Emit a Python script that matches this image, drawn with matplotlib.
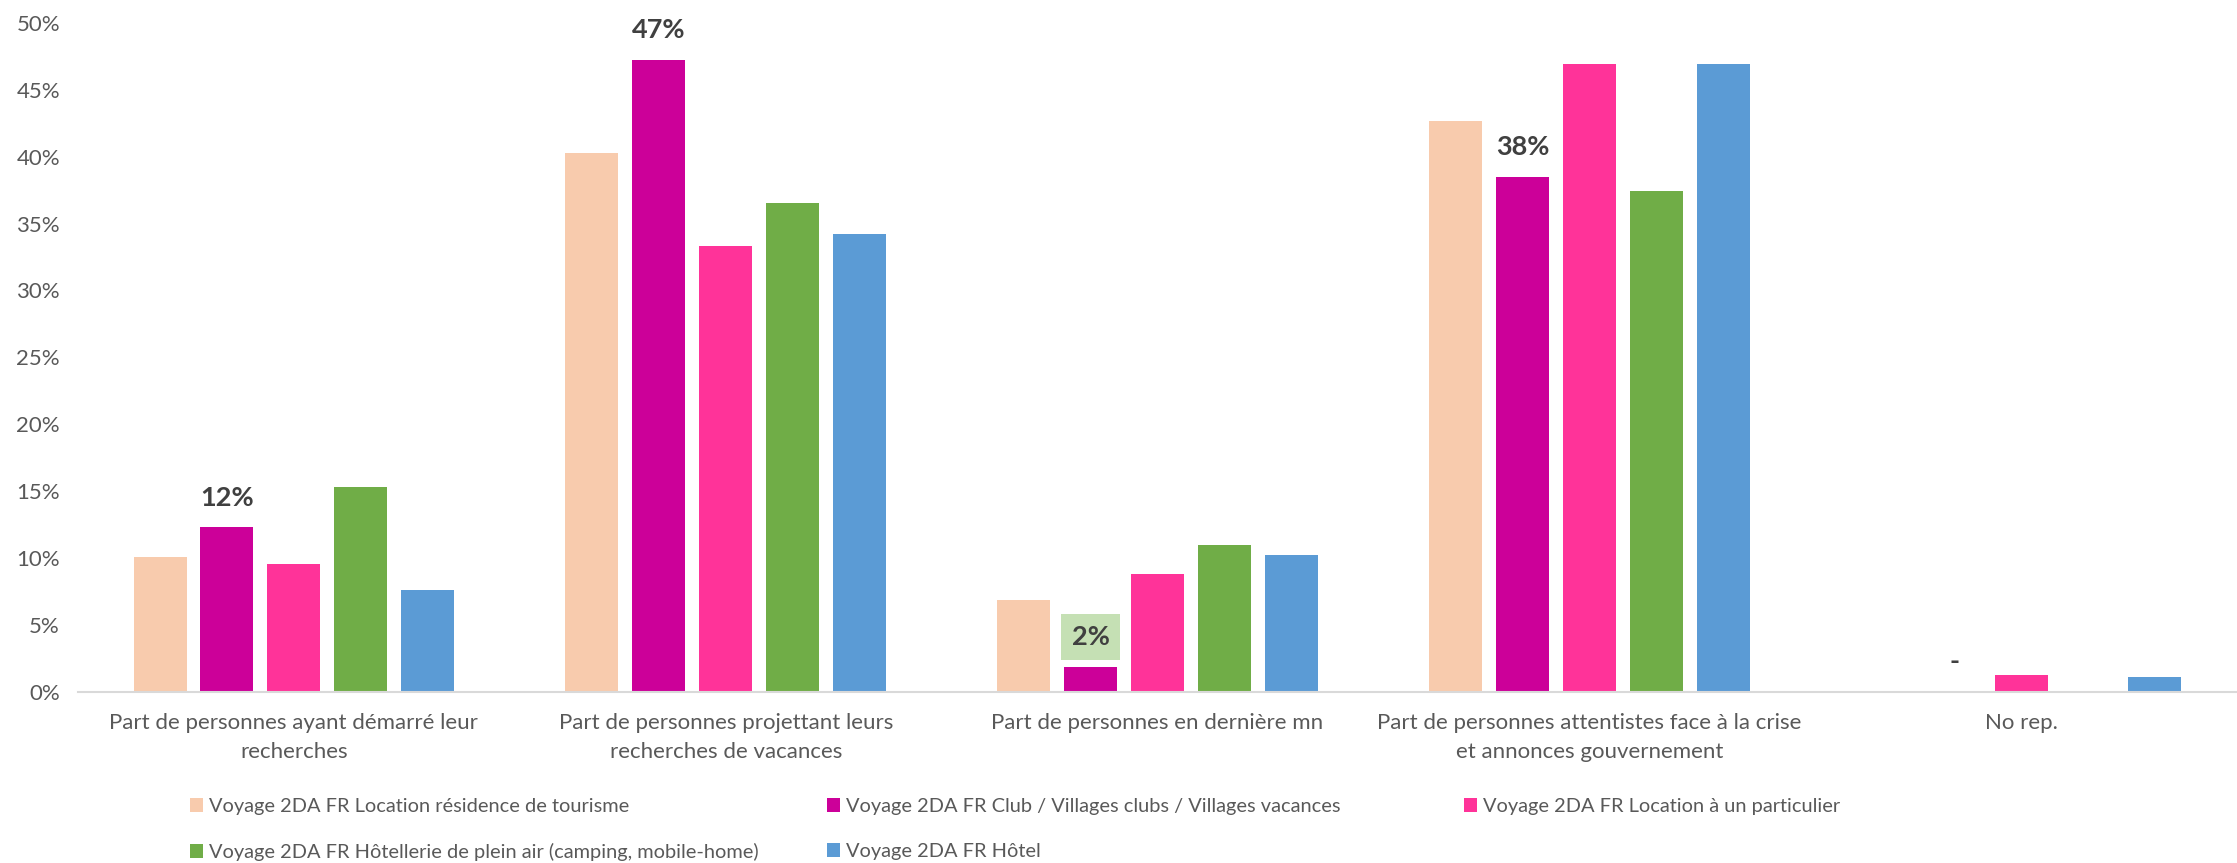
import matplotlib
matplotlib.use("Agg")
import matplotlib.pyplot as plt
import numpy as np

categories = [
    "Part de personnes ayant démarré leur\nrecherches",
    "Part de personnes projettant leurs\nrecherches de vacances",
    "Part de personnes en dernière mn",
    "Part de personnes attentistes face à la crise\net annonces gouvernement",
    "No rep.",
]
series_names = [
    "Voyage 2DA FR Location résidence de tourisme",
    "Voyage 2DA FR Club / Villages clubs / Villages vacances",
    "Voyage 2DA FR Location à un particulier",
    "Voyage 2DA FR Hôtellerie de plein air (camping, mobile-home)",
    "Voyage 2DA FR Hôtel",
]
residence = [10.1, 40.3, 6.9, 42.7, 0.0]
club = [12.3, 47.2, 1.9, 38.5, 0.0]
particulier = [9.6, 33.3, 8.8, 46.9, 1.3]
hpa = [15.3, 36.5, 11.0, 37.4, 0.0]
hotel = [7.6, 34.2, 10.2, 46.9, 1.1]
club_labels = ["12%", "47%", "2%", "38%", "-"]
yticks = [0, 5, 10, 15, 20, 25, 30, 35, 40, 45, 50]
ytick_labels = ["0%", "5%", "10%", "15%", "20%", "25%", "30%", "35%", "40%", "45%", "50%"]

colors = ["#F8CBAD", "#CC0099", "#FF3399", "#70AD47", "#5B9BD5"]
values = [residence, club, particulier, hpa, hotel]

FONT = "Lato"
TXT = "#595959"
W, H = 2237, 863
fig = plt.figure(figsize=(W / 100, H / 100), dpi=100)
ax = fig.add_axes([78 / W, 1 - 692 / H, (W - 78) / W, (692 - 22.8) / H])

x = np.arange(len(categories))
pitch = 0.155
bw = 0.1227
bars = []
for i, (vals, col, name) in enumerate(zip(values, colors, series_names)):
    b = ax.bar(x + (i - 2) * pitch, vals, width=bw, color=col, label=name, zorder=2)
    bars.append(b)

# data labels on the Club series
for j, (xx, v, lab) in enumerate(zip(x + (1 - 2) * pitch, club, club_labels)):
    kw = {}
    if lab == "2%":
        kw["bbox"] = dict(boxstyle="square,pad=0.4", facecolor="#C5E0B4", edgecolor="none")
    ax.annotate(lab, (xx, v), xytext=(0, 21.5), textcoords="offset points",
                ha="center", va="center", fontsize=19.5, fontweight="bold",
                color="#404040", family=FONT, **kw)

ax.set_xlim(-0.5, len(categories) - 0.5)
ax.set_ylim(0, 50)
ax.set_yticks(yticks)
ax.set_yticklabels(ytick_labels, family=FONT, fontsize=16, color=TXT)
ax.set_xticks(x)
ax.set_xticklabels(categories, family=FONT, fontsize=16, color=TXT, linespacing=1.6)
ax.tick_params(axis="both", length=0)
ax.tick_params(axis="y", pad=13)
ax.tick_params(axis="x", pad=15)
for s in ["top", "right", "left"]:
    ax.spines[s].set_visible(False)
ax.spines["bottom"].set_color("#D9D9D9")
ax.spines["bottom"].set_linewidth(1.5)
ax.spines["bottom"].set_zorder(3)

# legend: three equal-width columns, two rows
cols = [[0, 3], [1, 4], [2]]
col_x = [190 / W, 827 / W, 1464 / W]
for cx, idx in zip(col_x, cols):
    leg = fig.legend([bars[k] for k in idx], [series_names[k] for k in idx],
                     loc="upper left", bbox_to_anchor=(cx, 1 - 798 / H),
                     frameon=False, ncol=1, handlelength=0.65, handleheight=0.65,
                     handletextpad=0.3, labelspacing=1.4, borderaxespad=0, borderpad=0,
                     prop={"family": FONT, "size": 14.4})
    for t in leg.get_texts():
        t.set_color(TXT)

fig.savefig("out.png", dpi=100, facecolor="white")
